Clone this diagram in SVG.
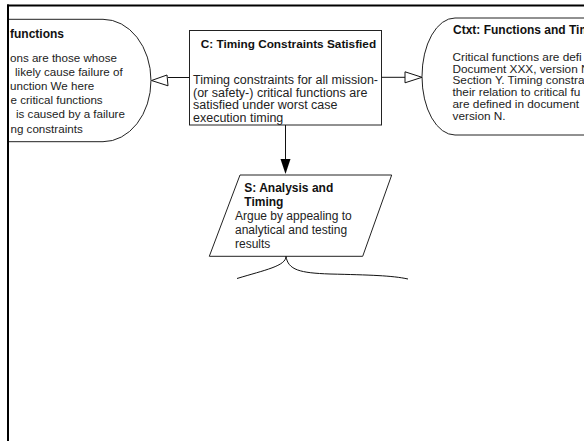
<svg xmlns="http://www.w3.org/2000/svg" width="584" height="441" viewBox="0 0 584 441">
  <style>
    .shape { fill: #ffffff; stroke: #222222; stroke-width: 1; }
    .edge { fill: none; stroke: #111111; stroke-width: 1; }
    .title { font-family: "Liberation Sans", Arial, sans-serif; font-weight: bold; font-size: 12px; fill: #111111; }
    .body { font-family: "Liberation Sans", Arial, sans-serif; font-size: 12px; fill: #222222; }
    .body-sm { font-size: 11.6px; }
    .body-md { font-size: 11.8px; }
    .body-lg { font-size: 12.5px; }
    .title-sm { font-size: 11.8px; }
    .frame { stroke: #000000; stroke-width: 2; fill: none; }
  </style>
  <defs>
    <clipPath id="page">
      <rect x="9" y="6.5" width="575" height="434.5"/>
    </clipPath>
  </defs>
  <rect x="0" y="0" width="584" height="441" fill="#ffffff"/>

  <g clip-path="url(#page)">
    <!-- context: critical functions (stadium, left half off page) -->
    <g id="ctx-critical">
      <path class="shape" d="M-40,19.3 L103,19.3 A48,61.2 0 0 1 103,141.7 L-40,141.7 Z"/>
      <text class="title" x="10" y="37.5">functions</text>
      <text class="body body-sm" x="10" y="61.5">ons are those whose</text>
      <text class="body body-sm" x="15" y="75.7">likely cause failure of</text>
      <text class="body body-sm" x="10" y="89.9">unction We here</text>
      <text class="body body-sm" x="10.5" y="104.1">e critical functions</text>
      <text class="body body-sm" x="16" y="118.3">is caused by a failure</text>
      <text class="body body-sm" x="10.5" y="132.5">ng constraints</text>
    </g>

    <!-- goal -->
    <g id="goal-timing">
      <rect class="shape" x="189.5" y="30.5" width="192" height="94.5"/>
      <text class="title title-sm" x="200.7" y="47.5">C: Timing Constraints Satisfied</text>
      <text class="body body-lg" x="193" y="83.5">Timing constraints for all mission-</text>
      <text class="body body-lg" x="193" y="96.5">(or safety-) critical functions are</text>
      <text class="body body-lg" x="193" y="109.3">satisfied under worst case</text>
      <text class="body body-lg" x="193" y="121.5">execution timing</text>
    </g>

    <!-- context: functions and timing (stadium, right half off page) -->
    <g id="ctx-functions">
      <path class="shape" d="M620,18 L455,18 A33,58.5 0 0 0 455,135 L620,135 Z"/>
      <text class="title" x="453" y="34">Ctxt: Functions and Tim</text>
      <text class="body body-md" x="452.5" y="61">Critical functions are defi</text>
      <text class="body body-md" x="452.5" y="72.7">Document XXX, version N</text>
      <text class="body body-md" x="452.5" y="84.4">Section Y. Timing constra</text>
      <text class="body body-md" x="452.5" y="96.1">their relation to critical fu</text>
      <text class="body body-md" x="452.5" y="107.8">are defined in document</text>
      <text class="body body-md" x="452.5" y="119.5">version N.</text>
    </g>

    <!-- strategy -->
    <g id="strategy-analysis">
      <polygon class="shape" points="240,175 391.7,175 362.7,256.3 209.3,256.3"/>
      <text class="title" x="244.3" y="191.5">S: Analysis and</text>
      <text class="title" x="244.3" y="206">Timing</text>
      <text class="body" x="235" y="220">Argue by appealing to</text>
      <text class="body" x="235" y="234">analytical and testing</text>
      <text class="body" x="235" y="247.5">results</text>
    </g>

    <!-- connectors -->
    <g id="connectors">
      <!-- in context of: goal to left context -->
      <line class="edge" x1="189.5" y1="77.5" x2="168" y2="77.5"/>
      <polygon class="edge" fill="#ffffff" points="151.5,80.5 167,75 168,85.8"/>
      <!-- in context of: goal to right context -->
      <line class="edge" x1="381.5" y1="77.3" x2="405" y2="77.3"/>
      <polygon class="edge" fill="#ffffff" points="405,71.8 405,82.8 422,77.3"/>
      <!-- supported by: goal to strategy -->
      <line class="edge" x1="285.5" y1="125" x2="285.5" y2="160"/>
      <polygon fill="#000000" points="280.5,159 290.5,159 285.5,174"/>
      <!-- supported by: strategy to sub-goals (off page) -->
      <path class="edge" d="M286,256.3 C286,266 265,270 237,278.5"/>
      <path class="edge" d="M286,256.3 C288,270 300,273 330,274 C370,275 392,275.5 408,279"/>
    </g>
  </g>

  <!-- page frame -->
  <g id="frame">
    <line class="frame" x1="7" y1="5.5" x2="584" y2="5.5"/>
    <line class="frame" x1="8" y1="4.5" x2="8" y2="441"/>
  </g>
</svg>
